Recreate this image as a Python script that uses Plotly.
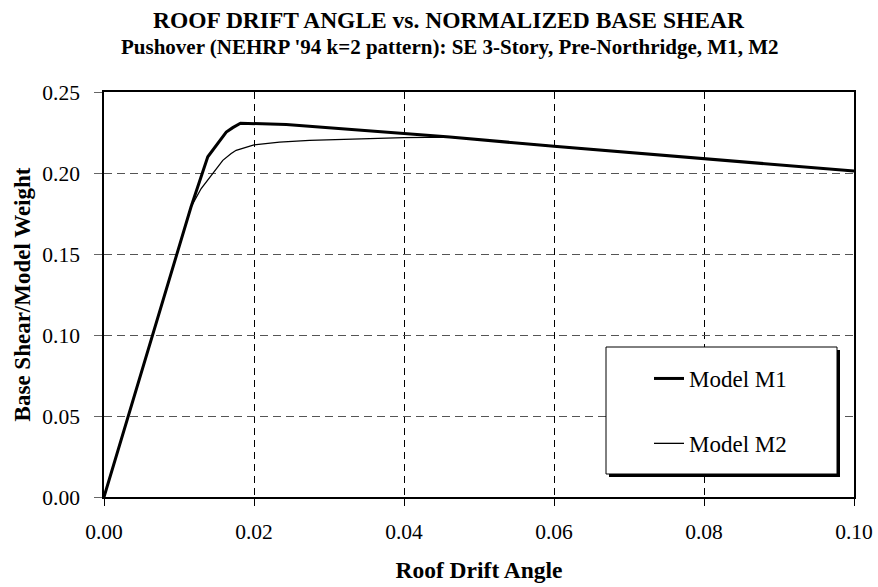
import plotly.graph_objects as go

# Pushover curves: roof drift angle vs. base shear normalized by model weight
m1_drift = [0.0, 0.0116, 0.01384, 0.01496, 0.01584, 0.0163, 0.01717, 0.0182, 0.0243,
            0.0400, 0.0461, 0.0600, 0.0800, 0.1000]
m1_shear = [0.0, 0.1790, 0.2100, 0.2171, 0.2222, 0.2253, 0.2280, 0.2307, 0.2300,
            0.2243, 0.2222, 0.2165, 0.2089, 0.2012]

m2_drift = [0.0, 0.0116, 0.01296, 0.0145, 0.01584, 0.01696, 0.01762, 0.0200, 0.0234,
            0.0274, 0.0341, 0.0400, 0.0461, 0.0600, 0.0800, 0.1000]
m2_shear = [0.0, 0.1790, 0.1904, 0.2000, 0.2078, 0.2120, 0.2140, 0.2173, 0.2191,
            0.2202, 0.2212, 0.2218, 0.2222, 0.2165, 0.2089, 0.2012]

x_ticks = [0.00, 0.02, 0.04, 0.06, 0.08, 0.10]
y_ticks = [0.00, 0.05, 0.10, 0.15, 0.20, 0.25]

title_text = "ROOF DRIFT ANGLE vs. NORMALIZED BASE SHEAR"
subtitle_text = "Pushover (NEHRP '94 k=2 pattern): SE 3-Story, Pre-Northridge, M1, M2"

SERIF = "Liberation Serif, Times New Roman, serif"

fig = go.Figure()
fig.add_trace(go.Scatter(x=m1_drift, y=m1_shear, mode="lines", name="Model M1",
                         legendgroup="m1",
                         line=dict(color="black", width=3)))
fig.add_trace(go.Scatter(x=m2_drift, y=m2_shear, mode="lines", name="Model M2",
                         legendgroup="m2",
                         line=dict(color="black", width=1.3)))

W, H = 878, 587
ml, mr, mt, mb = 104, 24, 92, 90
pw, ph = W - ml - mr, H - mt - mb


def px_x(px):
    return (px - ml) / pw


def px_y(py):
    return (H - mb - py) / ph


fig.update_layout(
    width=W, height=H,
    margin=dict(l=ml, r=mr, t=mt, b=mb, autoexpand=False),
    paper_bgcolor="white", plot_bgcolor="white",
    font=dict(family=SERIF, color="black", size=21),
    showlegend=True,
    legend=dict(
        x=px_x(649), y=px_y(357), xanchor="left", yanchor="top",
        bgcolor="rgba(0,0,0,0)", borderwidth=0,
        font=dict(family=SERIF, size=23, color="black"),
        traceorder="grouped", tracegroupgap=32,
        itemwidth=30,
    ),
    xaxis=dict(
        range=[0, 0.1], tickvals=x_ticks, tickformat=".2f",
        showline=True, linecolor="black", linewidth=1.5, mirror=True,
        ticks="outside", ticklen=7, tickcolor="black", tickwidth=1,
        showgrid=True, gridcolor="black", gridwidth=1, griddash="7px,5px",
        zeroline=False,
        tickfont=dict(family=SERIF, size=21.5),
        ticklabelstandoff=7,
        title=dict(text="<b>Roof Drift Angle</b>", standoff=19,
                   font=dict(family=SERIF, size=23.5)),
    ),
    yaxis=dict(
        range=[0, 0.25], tickvals=y_ticks, tickformat=".2f",
        showline=True, linecolor="black", linewidth=1.5, mirror=True,
        ticks="outside", ticklen=8, tickcolor="#666666", tickwidth=1,
        showgrid=True, gridcolor="#555555", gridwidth=1, griddash="8px,5px",
        zeroline=False,
        tickfont=dict(family=SERIF, size=21.5),
        ticklabelstandoff=10,
        title=dict(text="<b>Base Shear/Model Weight</b>", standoff=5,
                   font=dict(family=SERIF, size=23)),
    ),
    annotations=[
        dict(text="<b>" + title_text + "</b>", xref="paper", yref="paper",
             x=px_x(449), y=px_y(20), xanchor="center", yanchor="middle",
             showarrow=False, font=dict(family=SERIF, size=23.5)),
        dict(text="<b>" + subtitle_text + "</b>", xref="paper", yref="paper",
             x=px_x(449), y=px_y(47), xanchor="center", yanchor="middle",
             showarrow=False, font=dict(family=SERIF, size=21)),
    ],
    shapes=[
        # legend frame drop shadow
        dict(type="rect", xref="paper", yref="paper", layer="above",
             x0=px_x(609), x1=px_x(840), y0=px_y(477), y1=px_y(350),
             fillcolor="black", line=dict(width=0)),
        # legend frame
        dict(type="rect", xref="paper", yref="paper", layer="above",
             x0=px_x(606), x1=px_x(837), y0=px_y(474), y1=px_y(347),
             fillcolor="white", line=dict(color="black", width=1)),
    ],
)

fig.write_html("out.html")
